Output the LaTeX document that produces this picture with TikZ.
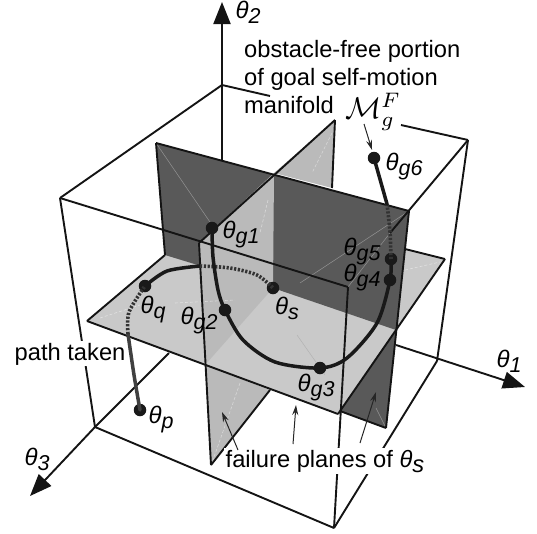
\documentclass[tikz,border=0pt]{standalone}
\usepackage{fontspec}
\setmainfont{Liberation Sans}
\usetikzlibrary{arrows.meta}
\definecolor{darkplane}{gray}{0.35}
\definecolor{midplane}{gray}{0.73}
\definecolor{floorplane}{gray}{0.79}
\newcommand{\thlab}[1]{\itshape\fontsize{24}{24}\selectfont θ\raisebox{-5pt}{\fontsize{21.5}{21.5}\selectfont #1}}
\tikzset{
  edge/.style={black!92,line width=1.9pt},
  axisline/.style={black!92,line width=1.9pt,-{Triangle[length=22pt,width=17pt]}},
  thin arrow/.style={black!85,line width=1pt,-{Stealth[length=10pt,width=6pt]}},
  ghost/.style={white,opacity=.35,line width=.5pt},
  ghostd/.style={white,opacity=.45,line width=.6pt,dash pattern=on 3pt off 2pt},
  solidpath/.style={black!90,line width=3.5pt,line cap=round},
  dotpath/.style={black!80,line width=3.6pt,dash pattern=on 2.2pt off 1.6pt},
  blob/.style={circle,fill=black!90,inner sep=0pt,minimum size=12.5pt},
  lab/.style={inner sep=0pt},
  txt/.style={inner sep=0pt,anchor=base west,font=\fontsize{23.7}{23.7}\selectfont},
  gaptxt/.style={txt,fill=white,inner sep=1.5pt}
}
\begin{document}
\begin{tikzpicture}[x=1pt,y=-1pt]
\useasboundingbox (0,0) rectangle (537,533);
% cube corners
\coordinate (A) at (222,85);\coordinate (B) at (60,198);\coordinate (C) at (468,140);
\coordinate (D) at (348,287);\coordinate (E) at (95,427);\coordinate (F) at (334,528);
\coordinate (G) at (437,361);\coordinate (H) at (169,353);
\coordinate (A2) at (222,2);\coordinate (A3) at (222,160);
\coordinate (AC1) at (270,96);\coordinate (AC2) at (401,125);
\coordinate (G1) at (396,345);\coordinate (G2) at (525,387);\coordinate (E2) at (30,496);
% plane corners
\coordinate (HL) at (87,321);\coordinate (HB) at (165,255);\coordinate (HR) at (445,259);
\coordinate (HF) at (338,414);\coordinate (HB2) at (405,249);
\coordinate (DTL) at (156,143);\coordinate (DTR) at (409,211);\coordinate (DBR) at (386,428);
\coordinate (DMR) at (396,330);\coordinate (DLow) at (340,411);
\coordinate (LT) at (199,243);\coordinate (LB) at (335,120);\coordinate (LBm) at (332,188);
\coordinate (LC) at (274,173);\coordinate (LS) at (273,288);\coordinate (LM) at (205,365);
\coordinate (LF) at (211,465);\coordinate (LE) at (270,390);
\coordinate (CDm) at (390,233);

% back cube edges and axes
\draw[edge] (B)--(A) (A)--(AC1) (AC2)--(C) (C)--(G);
\draw[edge] (E)--(H);
\draw[edge] (B)--(E);
\draw[axisline] (A3)--(A2);
\draw[axisline] (G1)--(G2);
\draw[axisline] (E)--(E2);

% planes
\fill[midplane] (LC)--(LB)--(LBm)--cycle;
\draw[edge] (LB)--(LBm);
\fill[darkplane] (DLow)--(DMR)--(DBR)--cycle;
\fill[floorplane] (HL)--(HB)--(HB2)--(HR)--(HF)--cycle;
\fill[darkplane] (DTL)--(DTR)--(DMR)--(LS)--(HB)--cycle;
\fill[midplane] (LT)--(LC)--(LS)--(LM)--cycle;
\fill[midplane] (LM)--(LE)--(LF)--cycle;

% faint hidden lines
\draw[ghost] (DTL)--(212,225);
\draw[ghost] (DTR)--(300,283);
\draw[ghost] (CDm)--(D);
\draw[ghost] (376,408)--(DBR);
\draw[ghostd] (332,133)--(312,173);
\draw[ghostd] (268,200)--(260,233);
\draw[ghostd] (240,383)--(213,460);
\draw[ghostd] (100,318)--(140,305);
\draw[ghostd] (175,303)--(235,300);
\draw[ghostd] (405,270)--(440,262);
\draw[black!30,line width=.5pt] (297,335)--(325,375);

% plane outlines
\draw[edge] (HL)--(HF);
\draw[edge] (HL)--(HB);
\draw[edge] (HB2)--(HR);
\draw[edge] (HR)--(HF);
\draw[edge] (DTL)--(HB);
\draw[edge] (DTL)--(DTR);
\draw[edge] (DTR)--(DBR);
\draw[edge] (DLow)--(DBR);
\draw[edge] (LT)--(LB);
\draw[edge] (LT)--(LF);
\draw[edge] (LF)--(LE);

% front cube edges
\draw[edge] (C)--(CDm);
\draw[edge] (B)--(D);
\draw[edge] (D)--(F);
\draw[edge] (E)--(F);
\draw[edge] (G)--(F);

% curves
\coordinate (p1) at (128,334);\coordinate (q1) at (200,266);\coordinate (g7) at (387,204);
\node[blob] (thp) at (140,410) {};
\node[blob] (thq) at (145,286) {};
\node[blob] (ths) at (273,288) {};
\node[blob] (tg1) at (212,228) {};
\node[blob] (tg2) at (225,310) {};
\node[blob] (tg3) at (320,368) {};
\node[blob] (tg4) at (390,280) {};
\node[blob] (tg5) at (391,259) {};
\node[blob] (tg6) at (374,158) {};
\draw[solidpath,black!75] plot[smooth] coordinates {(thp.center) (134,375) (p1)};
\draw[dotpath] plot[smooth] coordinates {(p1) (129,312) (thq.center)};
\draw[solidpath] plot[smooth] coordinates {(thq.center) (167,271) (q1)};
\draw[dotpath] plot[smooth] coordinates {(q1) (230,268) (257,275) (ths.center)};
\draw[solidpath] plot[smooth] coordinates {(tg1.center) (213,257) (218,290) (tg2.center) (243,340) (275,362) (tg3.center) (347,358) (377,323) (tg4.center) (tg5.center)};
\draw[dotpath] plot[smooth] coordinates {(tg5.center) (390,232) (g7)};
\draw[solidpath] (g7)--(tg6.center);

% labels
\node[lab] (lt2) at (248,12) {\thlab{2}};
\node[lab] (lt1) at (509,361) {\thlab{1}};
\node[lab] (lt3) at (37,459) {\thlab{3}};
\node[lab] (ltp) at (161,420) {\thlab{p}};
\node[lab] (ltq) at (153,310) {\thlab{q}};
\node[lab] (lts) at (287,308) {\thlab{s}};
\node[lab] (lg1) at (241,235) {\thlab{g1}};
\node[lab] (lg2) at (199,321) {\thlab{g2}};
\node[lab] (lg3) at (316,388) {\thlab{g3}};
\node[lab] (lg4) at (362,278) {\thlab{g4}};
\node[lab] (lg5) at (362,252) {\thlab{g5}};
\node[lab] (lg6) at (404,167) {\thlab{g6}};

\node[txt] (t1) at (244,57) {obstacle-free portion};
\node[txt] (t2) at (244,85) {of goal self-motion};
\node[txt] (t3) at (244,113) {manifold};
\node[inner sep=0pt,scale=3.0] (mani) at (373,112) {$\mathcal{M}_g^F$};
\node[gaptxt] (pt) at (13,360) {path taken};
\node[gaptxt] (fp) at (224,467) {failure planes of {\itshape θ\raisebox{-5pt}{s}}};

% small arrows
\coordinate (m1) at (364,124);\coordinate (m2) at (372,150);
\coordinate (f1a) at (238,450);\coordinate (f1b) at (222,412);
\coordinate (f2a) at (293,444);\coordinate (f2b) at (296,405);
\coordinate (f3a) at (360,443);\coordinate (f3b) at (376,392);
\draw[thin arrow] (m1)--(m2);
\draw[thin arrow] (f1a)--(f1b);
\draw[thin arrow] (f2a)--(f2b);
\draw[thin arrow] (f3a)--(f3b);
\end{tikzpicture}
\end{document}
